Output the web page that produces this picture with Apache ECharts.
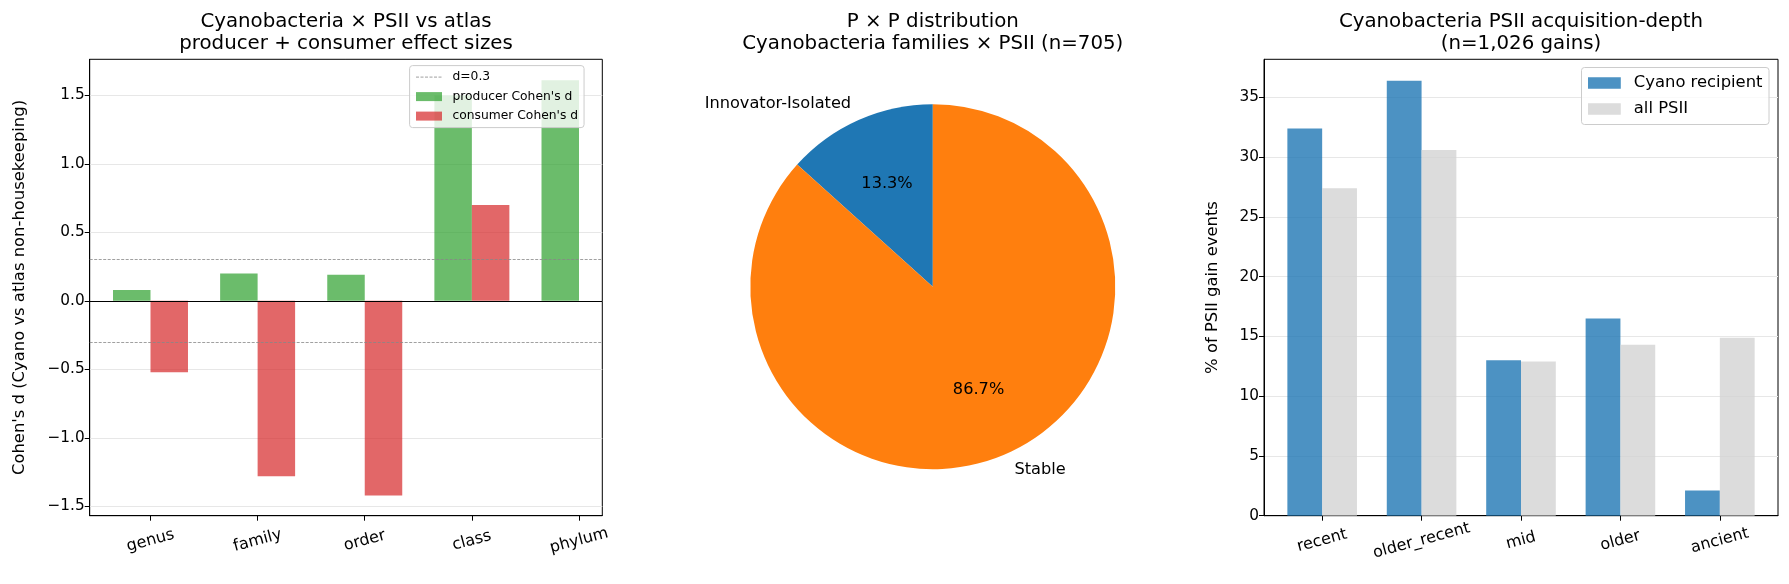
<!DOCTYPE html>
<html>
<head>
<meta charset="utf-8">
<title>Cyanobacteria PSII</title>
<script src="https://cdn.jsdelivr.net/npm/echarts@6/dist/echarts.min.js"></script>
<style>
  html, body { margin: 0; padding: 0; background: #fff; }
  #chart { width: 1789px; height: 584px; }
</style>
</head>
<body>
<div id="chart"></div>
<script>
// left panel: Cohen's d by taxonomic rank
const ranks = ['genus', 'family', 'order', 'class', 'phylum'];
const producerD = [0.08, 0.20, 0.19, 1.50, 1.61];
const consumerD = [-0.52, -1.28, -1.42, 0.70, null];
const dThresholds = [0.3, -0.3];
const effectTicks = [-1.5, -1.0, -0.5, 0.0, 0.5, 1.0, 1.5];

// middle panel: P x P classes (n=705)
const pxpNames = ['Innovator-Isolated', 'Stable'];
const pxpCounts = [94, 611];

// right panel: acquisition depth
const depthBins = ['recent', 'older_recent', 'mid', 'older', 'ancient'];
const cyanoPct = [32.4, 36.4, 13.0, 16.5, 2.1];
const allPct = [27.4, 30.6, 12.9, 14.3, 14.9];
const pctTicks = [0, 5, 10, 15, 20, 25, 30, 35];

const FONT = 'DejaVu Sans';
const G1 = { left: 89.7, top: 59.3, width: 512.6, height: 456.4 };
const G3 = { left: 1264, top: 59.3, width: 514, height: 456.4 };
const X1 = [-0.5675, 4.2175];
const X3 = [-0.585, 4.585];
const barW1 = 0.35 * G1.width / (X1[1] - X1[0]);
const barW3 = 0.35 * G3.width / (X3[1] - X3[0]);
const PIE_R = 182.5;
const PIE_C = [932.8, 286.7];
const XTICK_FS = 16;
const YTICK_FS = 15.3;
const TITLE_STYLE = { fontSize: 19.8, fontWeight: 'normal', color: '#000', lineHeight: 22, fontFamily: FONT };

const chart = echarts.init(document.getElementById('chart'));

function fmtD(v) {
  return (v < 0 ? '\u2212' : '') + Math.abs(v).toFixed(1);
}

function xAxisFor(gridIndex, range, names) {
  return {
    type: 'value', gridIndex: gridIndex, min: range[0], max: range[1],
    axisLine: { onZero: false, lineStyle: { color: '#000', width: 1 } },
    axisTick: { show: true, length: 5, lineStyle: { color: '#000' }, customValues: [0, 1, 2, 3, 4] },
    axisLabel: {
      customValues: [0, 1, 2, 3, 4], rotate: 15, align: 'center', verticalAlign: 'middle',
      margin: 25, fontSize: XTICK_FS, color: '#000', fontFamily: FONT,
      formatter: v => names[Math.round(v)]
    },
    splitLine: { show: false }
  };
}

const option = {
  animation: false,
  textStyle: { fontFamily: FONT },
  title: [
    {
      text: 'Cyanobacteria \u00d7 PSII vs atlas\nproducer + consumer effect sizes',
      left: G1.left + G1.width / 2, top: 11, textAlign: 'center', padding: 0, textStyle: TITLE_STYLE
    },
    {
      text: 'P \u00d7 P distribution\nCyanobacteria families \u00d7 PSII (n=705)',
      left: PIE_C[0], top: 11, textAlign: 'center', padding: 0, textStyle: TITLE_STYLE
    },
    {
      text: 'Cyanobacteria PSII acquisition-depth\n(n=1,026 gains)',
      left: G3.left + G3.width / 2, top: 11, textAlign: 'center', padding: 0, textStyle: TITLE_STYLE
    }
  ],
  legend: [
    {
      data: [
        {
          name: 'd=0.3',
          itemStyle: { color: 'rgba(0,0,0,0)', borderWidth: 0 },
          lineStyle: { color: '#888888', type: [3, 1.5], width: 0.8 }
        },
        { name: "producer Cohen's d", icon: 'rect' },
        { name: "consumer Cohen's d", icon: 'rect' }
      ],
      orient: 'vertical', left: 409.6, top: 65.6,
      itemWidth: 26, itemHeight: 9, itemGap: 5.5,
      padding: [4.5, 6, 4.5, 6],
      backgroundColor: 'rgba(255,255,255,0.8)', borderColor: '#cccccc', borderWidth: 1, borderRadius: 3,
      textStyle: { fontSize: 12.3, color: '#000', lineHeight: 14, fontFamily: FONT, padding: [0, 0, 0, 5.5] },
      selectedMode: false
    },
    {
      data: [
        { name: 'Cyano recipient', icon: 'rect' },
        { name: 'all PSII', icon: 'rect' }
      ],
      orient: 'vertical', right: 20, top: 67.5,
      itemWidth: 32.8, itemHeight: 11.5, itemGap: 8,
      padding: [6.5, 6.5, 6.5, 6.5],
      backgroundColor: 'rgba(255,255,255,0.8)', borderColor: '#cccccc', borderWidth: 1, borderRadius: 3,
      textStyle: { fontSize: 16.4, color: '#000', lineHeight: 18, fontFamily: FONT, padding: [0, 0, 0, 8] },
      selectedMode: false
    }
  ],
  grid: [
    Object.assign({ show: true, borderColor: '#000', borderWidth: 1, backgroundColor: 'transparent', outerBoundsMode: 'none' }, G1),
    Object.assign({ show: true, borderColor: '#000', borderWidth: 1, backgroundColor: 'transparent', outerBoundsMode: 'none' }, G3)
  ],
  xAxis: [
    xAxisFor(0, X1, ranks),
    xAxisFor(1, X3, depthBins)
  ],
  yAxis: [
    {
      type: 'value', gridIndex: 0, min: -1.567, max: 1.762, splitNumber: 7,
      name: "Cohen's d (Cyano vs atlas non-housekeeping)", nameLocation: 'middle', nameGap: 62, nameRotate: 90,
      nameTextStyle: { fontSize: 16.4, color: '#000', fontFamily: FONT },
      axisLine: { show: true, onZero: false, lineStyle: { color: '#000' } },
      axisTick: { show: true, length: 5, lineStyle: { color: '#000' }, customValues: effectTicks },
      axisLabel: { customValues: effectTicks, formatter: fmtD, fontSize: YTICK_FS, color: '#000', margin: 5, fontFamily: FONT },
      splitLine: { show: true, lineStyle: { color: '#e7e7e7', width: 1 } }
    },
    {
      type: 'value', gridIndex: 1, min: 0, max: 38.19, interval: 5,
      name: '% of PSII gain events', nameLocation: 'middle', nameGap: 43, nameRotate: 90,
      nameTextStyle: { fontSize: 16.4, color: '#000', fontFamily: FONT },
      axisLine: { show: true, onZero: false, lineStyle: { color: '#000' } },
      axisTick: { show: true, length: 5, lineStyle: { color: '#000' }, customValues: pctTicks },
      axisLabel: { customValues: pctTicks, fontSize: YTICK_FS, color: '#000', margin: 5, fontFamily: FONT },
      splitLine: { show: true, lineStyle: { color: '#e7e7e7', width: 1 } }
    }
  ],
  series: [
    {
      name: 'd=0.3', type: 'line', xAxisIndex: 0, yAxisIndex: 0, data: [],
      symbol: 'none', silent: true, color: '#888888',
      lineStyle: { type: [3, 1.5], color: '#888888', width: 0.8 },
      markLine: {
        silent: true, symbol: 'none', label: { show: false },
        lineStyle: { type: [3, 1.5], color: '#888888', width: 0.8 },
        data: dThresholds.map(v => ({ yAxis: v }))
      }
    },
    {
      name: "producer Cohen's d", type: 'bar', xAxisIndex: 0, yAxisIndex: 0,
      barWidth: barW1, barGap: '0%',
      itemStyle: { color: 'rgba(44,160,44,0.7)' },
      data: producerD.map((v, i) => [i, v]),
      markLine: {
        silent: true, symbol: 'none', label: { show: false },
        lineStyle: { type: 'solid', color: '#000', width: 1 },
        data: [{ yAxis: 0 }]
      }
    },
    {
      name: "consumer Cohen's d", type: 'bar', xAxisIndex: 0, yAxisIndex: 0,
      barWidth: barW1, barGap: '0%',
      itemStyle: { color: 'rgba(214,39,40,0.7)' },
      data: consumerD.map((v, i) => [i, v]).filter(d => d[1] !== null)
    },
    {
      name: 'Cyano recipient', type: 'bar', xAxisIndex: 1, yAxisIndex: 1,
      barWidth: barW3, barGap: '0%',
      itemStyle: { color: 'rgba(31,119,180,0.8)' },
      data: cyanoPct.map((v, i) => [i, v])
    },
    {
      name: 'all PSII', type: 'bar', xAxisIndex: 1, yAxisIndex: 1,
      barWidth: barW3, barGap: '0%',
      itemStyle: { color: 'rgba(211,211,211,0.8)' },
      data: allPct.map((v, i) => [i, v])
    },
    {
      name: 'pxp', type: 'pie', center: PIE_C, radius: PIE_R,
      startAngle: 90, clockwise: false, avoidLabelOverlap: false, silent: true,
      color: ['#1f77b4', '#ff7f0e'],
      itemStyle: { borderWidth: 0 },
      label: { show: true, position: 'outside', formatter: '{b}', fontSize: 16.2, color: '#000', distanceToLabelLine: 0, fontFamily: FONT },
      labelLine: { show: false, length: PIE_R * 0.1, length2: 0 },
      data: pxpNames.map((n, i) => ({ name: n, value: pxpCounts[i] }))
    },
    {
      // invisible twin at 1.2R so the inside labels sit at 0.6R
      name: 'pxpPct', type: 'pie', center: PIE_C, radius: PIE_R * 1.2,
      startAngle: 90, clockwise: false, avoidLabelOverlap: false, silent: true,
      itemStyle: { color: 'rgba(0,0,0,0)', borderWidth: 0 },
      label: { show: true, position: 'inside', formatter: p => p.percent.toFixed(1) + '%', fontSize: 16.2, color: '#000', fontFamily: FONT },
      labelLine: { show: false },
      data: pxpNames.map((n, i) => ({ name: n, value: pxpCounts[i] }))
    }
  ]
};

chart.setOption(option);
</script>
</body>
</html>
